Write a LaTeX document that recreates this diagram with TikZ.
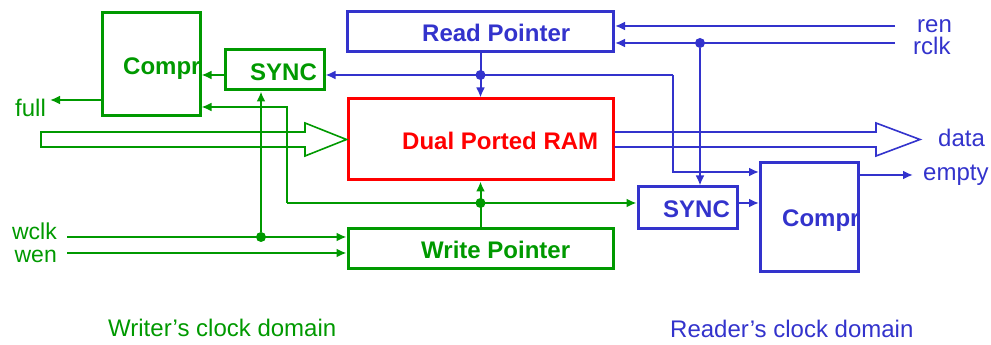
\documentclass[tikz,border=0pt]{standalone}
\usepackage{fontspec}
\setmainfont{Liberation Sans}
\usetikzlibrary{arrows.meta}

\definecolor{wgreen}{RGB}{0,153,0}
\definecolor{rblue}{RGB}{51,51,204}
\definecolor{ramred}{RGB}{255,0,0}

\tikzset{
  box/.style={draw, line width=3pt, inner sep=0pt},
  sig/.style={line width=2pt, -{Latex[length=10pt,width=9pt]}},
  bus/.style={line width=1.6pt, line join=miter},
  jdot/.style={circle, fill, inner sep=0pt, minimum size=10pt},
  lbl/.style={anchor=base west, inner sep=0pt, font=\fontsize{24}{28}\selectfont},
  blbl/.style={lbl, font=\fontsize{24}{28}\selectfont\bfseries}
}

\begin{document}
\begin{tikzpicture}[x=1pt,y=1pt]
    \useasboundingbox (0,0) rectangle (991,345);

    % text inside the blocks
    \node[blbl, wgreen] (cmpwtxt) at (123,270) {Compr};
    \node[blbl, wgreen] (syncwtxt) at (250,264) {SYNC};
    \node[blbl, rblue] (rptrtxt) at (422,303) {Read Pointer};
    \node[blbl, ramred] (ramtxt) at (402,195) {Dual Ported RAM};
    \node[blbl, wgreen] (wptrtxt) at (421,86) {Write Pointer};
    \node[blbl, rblue] (syncrtxt) at (663,127) {SYNC};
    \node[blbl, rblue] (cmprtxt) at (782,118) {Compr};

    % blocks
    \node[box, wgreen, minimum width=98pt, minimum height=103pt] (cmpw) at (151,280.5) {};
    \node[box, wgreen, minimum width=99pt, minimum height=40pt] (syncw) at (274.5,275) {};
    \node[box, rblue, minimum width=266pt, minimum height=40pt] (rptr) at (480.5,313) {};
    \node[box, ramred, minimum width=265pt, minimum height=81pt] (ram) at (480.5,205.5) {};
    \node[box, wgreen, minimum width=265pt, minimum height=40pt] (wptr) at (480.5,96.5) {};
    \node[box, rblue, minimum width=99pt, minimum height=42pt] (syncr) at (687.5,137) {};
    \node[box, rblue, minimum width=98pt, minimum height=109pt] (cmpr) at (809.5,127.5) {};

    % data buses
    \coordinate (datain) at (41,205.5);
    \coordinate (dataout) at (920,205.5);
    \draw[bus, wgreen] (datain |- 0,213) -- (305,213) -- (305,222) -- (ram.west)
        -- (305,189) -- (305,198) -- (datain |- 0,198) -- cycle;
    \draw[bus, rblue] (ram.east |- 0,213) -- (876,213) -- (876,222) -- (dataout)
        -- (876,189) -- (876,198) -- (ram.east |- 0,198);

    % writer side
    \coordinate (wclkin) at (67,108);
    \coordinate (wenin) at (67,92);
    \node[jdot, wgreen] (wclkdot) at (261,108) {};
    \draw[sig, wgreen] (wclkin) -- (wclkin -| wptr.west);
    \draw[sig, wgreen] (wenin) -- (wenin -| wptr.west);
    \draw[sig, wgreen] (wclkdot) -- (wclkdot |- syncw.south);
    \node[jdot, wgreen] (wptrdot) at (480.5,142) {};
    \draw[sig, wgreen] (wptr.north) -- (ram.south);
    \coordinate (wfb) at (287,142);
    \coordinate (wfbtop) at (287,238);
    \draw[sig, wgreen] (wfb) -- (wfb -| syncr.west);
    \draw[sig, wgreen] (wfb) -- (wfbtop) -- (wfbtop -| cmpw.east);
    \coordinate (syncwout) at ([yshift=-5pt]syncw.west);
    \draw[sig, wgreen] (syncwout) -- (syncwout -| cmpw.east);
    \coordinate (fullout) at (50,245);
    \draw[sig, wgreen] (fullout -| cmpw.west) -- (fullout);

    % reader side
    \coordinate (renin) at (895,319);
    \coordinate (rclkin) at (895,302);
    \draw[sig, rblue] (renin) -- (renin -| rptr.east);
    \draw[sig, rblue] (rclkin) -- (rclkin -| rptr.east);
    \node[jdot, rblue] (rclkdot) at (700,302) {};
    \draw[sig, rblue] (rclkdot) -- (rclkdot |- syncr.north);
    \node[jdot, rblue] (rptrdot) at (480.5,270) {};
    \draw[sig, rblue] (rptr.south) -- (ram.north);
    \coordinate (rfb) at (673,270);
    \coordinate (rfbbot) at (673,173);
    \draw[sig, rblue] (rfb) -- (rfb -| syncw.east);
    \draw[sig, rblue] (rfb) -- (rfbbot) -- (rfbbot -| cmpr.west);
    \coordinate (syncrout) at ([yshift=5pt]syncr.east);
    \draw[sig, rblue] (syncrout) -- (syncrout -| cmpr.west);
    \coordinate (emptyout) at (913,170);
    \draw[sig, rblue] (emptyout -| cmpr.east) -- (emptyout);

    % port names
    \node[lbl, wgreen] (fulllbl) at (15,228) {full};
    \node[lbl, wgreen, anchor=base east, font=\fontsize{23}{26}\selectfont] (wclklbl) at (57,105) {wclk};
    \node[lbl, wgreen, anchor=base east, font=\fontsize{23}{26}\selectfont] (wenlbl) at (57,82) {wen};
    \node[lbl, rblue] (renlbl) at (917,312) {ren};
    \node[lbl, rblue] (rclklbl) at (913,290) {rclk};
    \node[lbl, rblue] (datalbl) at (938,198) {data};
    \node[lbl, rblue] (emptylbl) at (923,164) {empty};

    % clock domains
    \node[lbl, wgreen] (wdomain) at (108,8) {Writer’s clock domain};
    \node[lbl, rblue] (rdomain) at (670,7) {Reader’s clock domain};
\end{tikzpicture}
\end{document}
